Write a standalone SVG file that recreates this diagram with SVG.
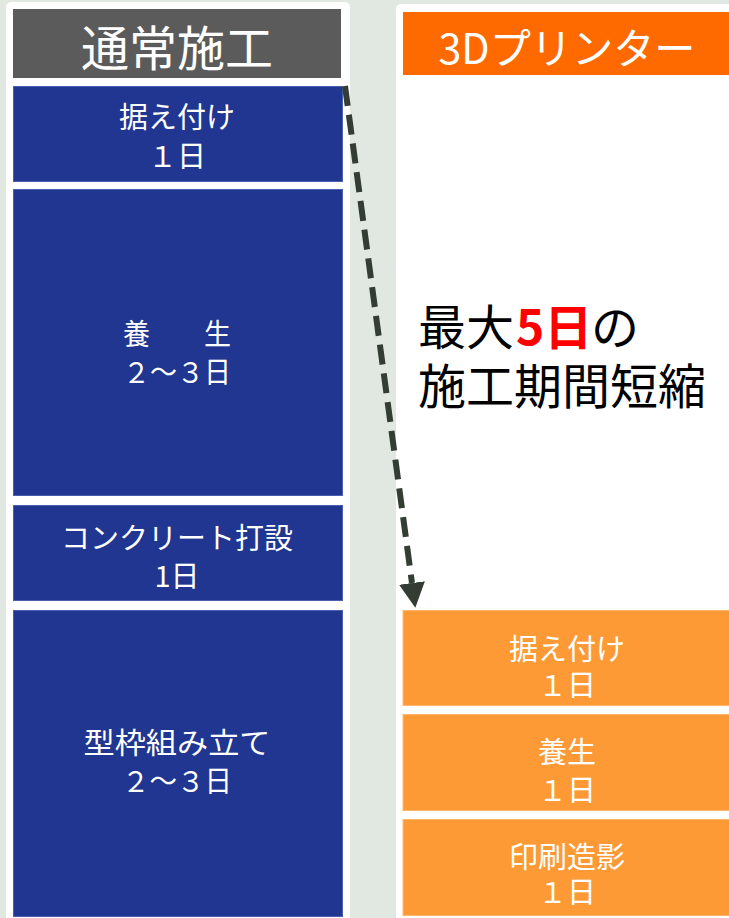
<svg xmlns="http://www.w3.org/2000/svg" width="729" height="918" viewBox="0 0 729 918">
<defs>
<style>
.t{font-family:"Noto Sans CJK JP","Noto Sans",sans-serif;fill:#fff;text-anchor:middle}
.b{fill:#203690;stroke:#4a5fb0;stroke-width:1}
.o{fill:#FE9A35;stroke:#ffb770;stroke-width:1}
.s{font-size:29px}
.big{font-family:"Noto Sans CJK JP","Noto Sans",sans-serif;font-size:48px;fill:#000}
.red{fill:#FF0000;font-weight:bold}
</style>
<marker id="ah" markerUnits="userSpaceOnUse" markerWidth="26" markerHeight="26" refX="0" refY="12" orient="auto" viewBox="0 0 24 24">
<path d="M0,0 L23,12 L0,24 Z" fill="#333d33"/>
</marker>
</defs>
<rect width="729" height="918" fill="#E1E8E1"/>
<rect x="6" y="2" width="344" height="930" rx="5" fill="#fff"/>
<rect x="396" y="4" width="345" height="930" rx="5" fill="#fff"/>

<g id="left-header">
<rect x="13" y="9" width="328" height="69" fill="#5B5B5B"/>
<text class="t" x="177" y="66" font-size="48">通常施工</text>
</g>
<g id="left-1">
<rect class="b" x="13.5" y="86.5" width="329" height="95"/>
<text class="t s" x="177" y="128">据え付け</text>
<text class="t s" x="177" y="167">１日</text>
</g>
<g id="left-2">
<rect class="b" x="13.5" y="189.5" width="329" height="306"/>
<text class="t s" x="177" y="345" textLength="108" lengthAdjust="spacingAndGlyphs">養　　生</text>
<text class="t s" x="177" y="383" textLength="108" lengthAdjust="spacingAndGlyphs">２～３日</text>
</g>
<g id="left-3">
<rect class="b" x="13.5" y="505.5" width="329" height="95"/>
<text class="t s" x="177" y="549" textLength="232" lengthAdjust="spacingAndGlyphs">コンクリート打設</text>
<text class="t s" x="177" y="587">1日</text>
</g>
<g id="left-4">
<rect class="b" x="13.5" y="610.5" width="329" height="306"/>
<text class="t s" x="177" y="754" textLength="187" lengthAdjust="spacingAndGlyphs">型枠組み立て</text>
<text class="t s" x="177" y="792" textLength="110" lengthAdjust="spacingAndGlyphs">２～３日</text>
</g>

<g id="right-header">
<rect x="403" y="12" width="330" height="63" fill="#FF6A00"/>
<text class="t" x="567" y="64" font-size="42" textLength="257" lengthAdjust="spacingAndGlyphs">3Dプリンター</text>
</g>
<g id="right-1">
<rect class="o" x="403" y="610.5" width="330" height="95"/>
<text class="t s" x="567" y="660">据え付け</text>
<text class="t s" x="567" y="696">１日</text>
</g>
<g id="right-2">
<rect class="o" x="403" y="714.5" width="330" height="96"/>
<text class="t s" x="567" y="763">養生</text>
<text class="t s" x="567" y="801">１日</text>
</g>
<g id="right-3">
<rect class="o" x="403" y="819.5" width="330" height="96"/>
<text class="t s" x="567" y="868">印刷造影</text>
<text class="t s" x="567" y="903">１日</text>
</g>

<g id="label">
<text class="big" x="418" y="345">最大</text>
<text class="big red" x="516" y="345">5日</text>
<text class="big" x="591" y="345">の</text>
<text class="big" x="418" y="404">施工期間短縮</text>
</g>

<g id="connectors">
<path d="M345,86 L412,583" fill="none" stroke="#333d33" stroke-width="6" stroke-dasharray="20 9" marker-end="url(#ah)"/>
</g>
</svg>
